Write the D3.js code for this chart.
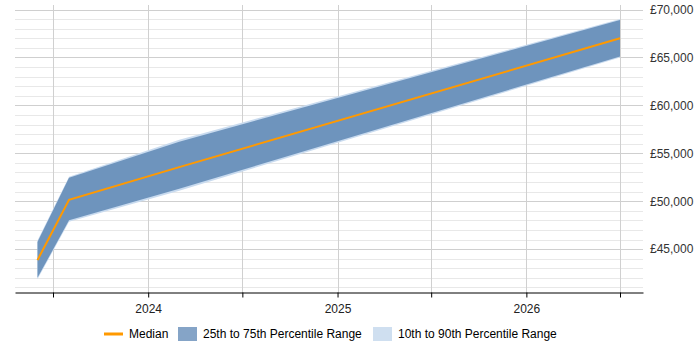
<!DOCTYPE html>
<html>
<head>
<meta charset="utf-8">
<script src="https://cdn.jsdelivr.net/npm/d3@7"></script>
<style>
  body { margin: 0; background: #fff; }
  text { font-family: "Liberation Sans", Arial, sans-serif; }
</style>
</head>
<body>
<svg id="chart" width="700" height="350"></svg>
<script>
// data
var dates = ["2023-06-01", "2023-08-01", "2024-03-01", "2026-07-01"];
var p90 = [45900, 52550, 56400, 69000];
var p75 = [45750, 52450, 56200, 68900];
var median = [43850, 50150, 53550, 67000];
var p25 = [42000, 48000, 51300, 65100];
var p10 = [41850, 47850, 51100, 65000];

var yTicks = [45000, 50000, 55000, 60000, 65000, 70000];
var legendLabels = ["Median", "25th to 75th Percentile Range", "10th to 90th Percentile Range"];

var svg = d3.select("#chart");
var parse = d3.timeParse("%Y-%m-%d");

var data = dates.map(function (d, i) {
    return { date: parse(d), p90: p90[i], p75: p75[i], median: median[i], p25: p25[i], p10: p10[i] };
});

var plotLeft = 15, plotRight = 643, plotTop = 5, plotBottom = 292.5;

// Jul 2023 sits at 53 and Jul 2026 at 620, stretch the domain out to the plot edges
var x = d3.scaleTime()
    .domain([new Date(2023, 6, 1), new Date(2026, 6, 1)])
    .range([53, 620]);
x.domain([x.invert(plotLeft), x.invert(plotRight)]).range([plotLeft, plotRight]);

var y = d3.scaleLinear()
    .domain([40470, 70470])
    .range([plotBottom, plotTop]);

// horizontal grid, minor every 1000 and major every 5000
var gridVals = d3.range(41000, 70001, 1000);
svg.append("g")
    .selectAll("line")
    .data(gridVals)
    .enter().append("line")
    .attr("x1", plotLeft)
    .attr("x2", plotRight)
    .attr("y1", function (d) { return Math.round(y(d)) + 0.5; })
    .attr("y2", function (d) { return Math.round(y(d)) + 0.5; })
    .style("stroke", function (d) { return d % 5000 === 0 ? "#cfcfcf" : "#e8e8e8"; })
    .style("stroke-width", 1);

// vertical grid at every half year
var xTicks = x.ticks(d3.timeMonth.every(6));
svg.append("g")
    .selectAll("line")
    .data(xTicks)
    .enter().append("line")
    .attr("x1", function (d) { return Math.round(x(d)) + 0.5; })
    .attr("x2", function (d) { return Math.round(x(d)) + 0.5; })
    .attr("y1", plotTop)
    .attr("y2", plotBottom)
    .style("stroke", "#d0d0d0");

// bands
var band = function (lo, hi) {
    return d3.area()
        .x(function (d) { return x(d.date); })
        .y0(function (d) { return y(d[lo]); })
        .y1(function (d) { return y(d[hi]); });
};

svg.append("path")
    .datum(data)
    .attr("d", band("p10", "p90"))
    .style("fill", "#c9dbef");

svg.append("path")
    .datum(data)
    .attr("d", band("p25", "p75"))
    .style("fill", "#6e94bd");

svg.append("path")
    .datum(data)
    .attr("d", d3.line()
        .x(function (d) { return x(d.date); })
        .y(function (d) { return y(d.median); }))
    .style("fill", "none")
    .style("stroke", "#ff9900")
    .style("stroke-width", 2);

// x axis
var xAxis = svg.append("g")
    .attr("transform", "translate(0," + plotBottom + ")")
    .call(d3.axisBottom(x)
        .tickValues(xTicks)
        .tickSize(5)
        .tickSizeOuter(0)
        .tickFormat(function (d) { return d.getMonth() === 0 ? d3.timeFormat("%Y")(d) : ""; }));
xAxis.select(".domain").style("stroke", "#000");
xAxis.selectAll(".tick line").style("stroke", "#000");
xAxis.selectAll("text")
    .attr("dy", "1.05em")
    .style("font-size", "12px")
    .style("fill", "#222");

// y axis labels on the right
var yAxis = svg.append("g")
    .attr("transform", "translate(" + plotRight + ",0)")
    .call(d3.axisRight(y)
        .tickValues(yTicks)
        .tickSize(0)
        .tickPadding(7)
        .tickFormat(function (d) { return "£" + d3.format(",")(d); }));
yAxis.select(".domain").remove();
yAxis.selectAll("text")
    .style("font-size", "12px")
    .style("fill", "#333");

// legend
var legend = svg.append("g").attr("transform", "translate(0,334)");

legend.append("line")
    .attr("x1", 104).attr("x2", 123)
    .attr("y1", 0).attr("y2", 0)
    .style("stroke", "#ff9900")
    .style("stroke-width", 3);
legend.append("text")
    .attr("x", 129).attr("y", 4)
    .style("font-size", "12px")
    .text(legendLabels[0]);

legend.append("rect")
    .attr("x", 178).attr("y", -7)
    .attr("width", 19).attr("height", 14)
    .style("fill", "#85a4c7");
legend.append("text")
    .attr("x", 203).attr("y", 4)
    .style("font-size", "12px")
    .text(legendLabels[1]);

legend.append("rect")
    .attr("x", 373).attr("y", -7)
    .attr("width", 19).attr("height", 14)
    .style("fill", "#cfdff0");
legend.append("text")
    .attr("x", 398).attr("y", 4)
    .style("font-size", "12px")
    .text(legendLabels[2]);
</script>
</body>
</html>
